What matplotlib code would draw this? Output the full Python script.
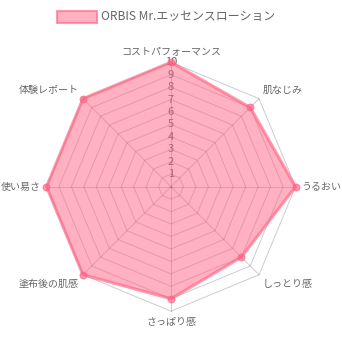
import numpy as np
import matplotlib.pyplot as plt
from matplotlib.patches import Rectangle

# data
labels = ['コストパフォーマンス', '肌なじみ', 'うるおい', 'しっとり感',
          'さっぱり感', '塗布後の肌感', '使い易さ', '体験レポート']
values = [10, 9, 10, 8, 9, 10, 10, 10]
ticks = list(range(1, 11))
series_name = 'ORBIS Mr.エッセンスローション'

plt.rcParams['font.family'] = ['Noto Sans CJK JP', 'DejaVu Sans']

pink = (1, 99 / 255, 132 / 255)
grid = (0, 0, 0, 0.2)
txt = '#666666'

fig = plt.figure(figsize=(3.42, 3.42), dpi=100)
ax = fig.add_axes([0, 0, 1, 1])
px = 12.45          # pixels per value step
cx, cy = 171, 186.7  # chart centre in pixels (from top-left)
ax.set_xlim(-cx / px, (342 - cx) / px)
ax.set_ylim(-(342 - cy) / px, cy / px)
ax.set_aspect('equal')
ax.axis('off')

n = len(labels)
ang = np.pi / 2 - 2 * np.pi * np.arange(n) / n
ux, uy = np.cos(ang), np.sin(ang)
rmax = max(ticks)

# polygon grid + spokes
for t in ticks:
    ax.plot(np.append(ux, ux[0]) * t, np.append(uy, uy[0]) * t,
            color=grid, lw=0.7, zorder=1)
for i in range(n):
    ax.plot([0, ux[i] * rmax], [0, uy[i] * rmax], color=grid, lw=0.7, zorder=1)

# tick labels
for t in ticks:
    ax.text(0, t, str(t), ha='center', va='center', fontsize=8,
            color=txt, zorder=1)

# dataset
vals = np.array(values, dtype=float)
vx, vy = ux * vals, uy * vals
ax.fill(vx, vy, facecolor=pink + (0.5,), edgecolor=pink + (0.65,),
        lw=2.2, zorder=2)
ax.scatter(vx, vy, s=22, color=pink + (0.6,), edgecolors=pink + (0.7,),
           lw=1, zorder=3)

# point labels
for i, lab in enumerate(labels):
    x, y = ux[i] * (rmax + 0.45), uy[i] * (rmax + 0.45)
    if abs(ux[i]) < 1e-6:
        ha = 'center'
    else:
        ha = 'left' if ux[i] > 0 else 'right'
    if abs(uy[i]) < 1e-6:
        va = 'center'
    else:
        va = 'bottom' if uy[i] > 0 else 'top'
    ax.text(x, y, lab, ha=ha, va=va, fontsize=7.2, color=txt)

# legend
fig.add_artist(Rectangle((57 / 342, 1 - 22.5 / 342), 40 / 342, 12 / 342,
                         transform=fig.transFigure, facecolor=pink + (0.5,),
                         edgecolor=pink + (0.65,), lw=1.5))
fig.text(101 / 342, 1 - 16.5 / 342, series_name, ha='left', va='center',
         fontsize=8.6, color=txt)

fig.savefig('out.png', dpi=100)
